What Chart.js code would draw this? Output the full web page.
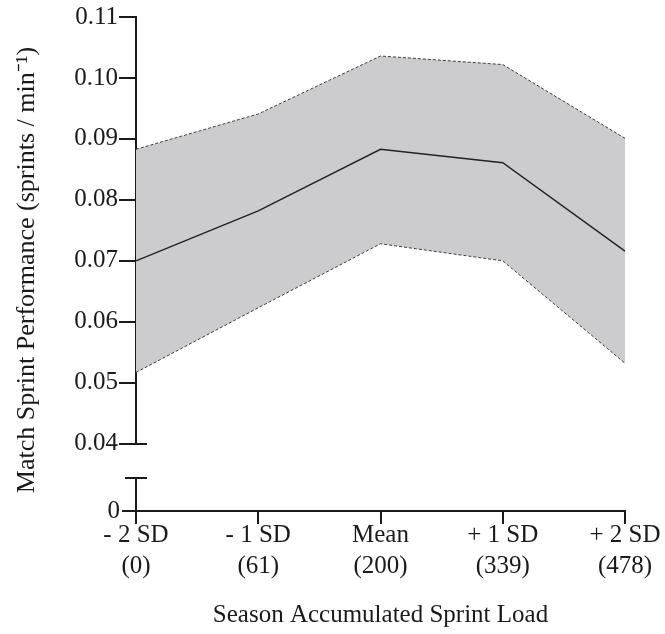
<!DOCTYPE html>
<html>
<head>
<meta charset="utf-8">
<script src="https://cdn.jsdelivr.net/npm/chart.js@4.4.1/dist/chart.umd.min.js"></script>
<style>
  html, body { margin: 0; padding: 0; background: #fff; }
  canvas { display: block; }
</style>
</head>
<body>
<canvas id="sprintChart" width="665" height="634"></canvas>
<script>
const loadLabels = [
  ["- 2 SD", "(0)"],
  ["- 1 SD", "(61)"],
  ["Mean", "(200)"],
  ["+ 1 SD", "(339)"],
  ["+ 2 SD", "(478)"],
];
const meanPerf = [0.07, 0.0782, 0.0883, 0.0861, 0.0716];
const upperPerf = [0.0883, 0.0941, 0.1036, 0.1022, 0.0901];
const lowerPerf = [0.0517, 0.0623, 0.0728, 0.07, 0.0532];
const upperTicks = [0.04, 0.05, 0.06, 0.07, 0.08, 0.09, 0.1, 0.11];
const lowerTicks = [0];
const yTitle = "Match Sprint Performance (sprints / min\u207B\u00B9)";
const xTitle = "Season Accumulated Sprint Load";

const serif = '"Liberation Serif", "Times New Roman", serif';
const ink = "#1a1a1a";

// caps at the axis break, and the y title centred on the whole broken axis
const axisBreak = {
  id: "axisBreak",
  afterDraw(chart) {
    const ctx = chart.ctx;
    const upper = chart.scales.y;
    const lower = chart.scales.yLow;
    const x = chart.chartArea.left;
    ctx.save();
    ctx.strokeStyle = ink;
    ctx.lineWidth = 2;
    ctx.beginPath();
    const yMin = Math.round(upper.getPixelForValue(upperTicks[0]));
    ctx.moveTo(x, yMin);
    ctx.lineTo(x + 11, yMin);
    const yCap = Math.round(lower.top);
    ctx.moveTo(x - 11, yCap);
    ctx.lineTo(x + 11, yCap);
    ctx.stroke();

    ctx.fillStyle = ink;
    ctx.font = "26px " + serif;
    ctx.textAlign = "center";
    ctx.textBaseline = "middle";
    ctx.translate(27, (chart.chartArea.top + chart.chartArea.bottom) / 2 + 6);
    ctx.rotate(-Math.PI / 2);
    ctx.fillText(yTitle, 0, 0);
    ctx.restore();
  },
};

const tickFont = { family: serif, size: 25 };

new Chart(document.getElementById("sprintChart"), {
  type: "line",
  data: {
    labels: loadLabels,
    datasets: [
      {
        label: "Upper",
        data: upperPerf,
        borderColor: "#3c3c3c",
        borderWidth: 1,
        borderDash: [3, 2],
        backgroundColor: "#cccccf",
        fill: "+2",
        pointRadius: 0,
        yAxisID: "y",
        order: 3,
      },
      {
        label: "Mean",
        data: meanPerf,
        borderColor: "#222222",
        borderWidth: 1.4,
        fill: false,
        pointRadius: 0,
        yAxisID: "y",
        order: 1,
      },
      {
        label: "Lower",
        data: lowerPerf,
        borderColor: "#3c3c3c",
        borderWidth: 1,
        borderDash: [3, 2],
        fill: false,
        pointRadius: 0,
        yAxisID: "y",
        order: 2,
      },
    ],
  },
  options: {
    responsive: false,
    animation: false,
    layout: { padding: { top: 16, right: 40, left: 0, bottom: 0 } },
    elements: { line: { tension: 0 } },
    plugins: {
      legend: { display: false },
      tooltip: { enabled: false },
    },
    scales: {
      x: {
        type: "category",
        offset: false,
        border: { color: ink, width: 2 },
        grid: { drawOnChartArea: false, tickLength: 13, color: ink, lineWidth: 2 },
        ticks: {
          color: ink,
          padding: -4,
          maxRotation: 0,
          autoSkip: false,
          font: { family: serif, size: 25, lineHeight: 1.25 },
        },
        title: {
          display: true,
          text: xTitle,
          color: ink,
          font: { family: serif, size: 25 },
          padding: { top: 0, bottom: 4 },
        },
        afterFit: (s) => {
          s.height = 123;
        },
      },
      y: {
        type: "linear",
        position: "left",
        stack: "perf",
        stackWeight: 427.6,
        weight: 3,
        min: 0.04,
        max: 0.11,
        afterBuildTicks: (s) => {
          s.ticks = upperTicks.map((v) => ({ value: v }));
        },
        ticks: {
          color: ink,
          padding: 1,
          font: tickFont,
          callback: (v) => Number(v).toFixed(2),
        },
        grid: { drawOnChartArea: false, tickLength: 17, color: ink, lineWidth: 2 },
        border: { color: ink, width: 2 },
        afterFit: (s) => {
          s.width = 136;
        },
      },
      yGap: {
        type: "linear",
        position: "left",
        stack: "perf",
        stackWeight: 34,
        weight: 2,
        display: false,
        min: 0,
        max: 1,
      },
      yLow: {
        type: "linear",
        position: "left",
        stack: "perf",
        stackWeight: 33.4,
        weight: 1,
        min: 0,
        max: 1,
        afterBuildTicks: (s) => {
          s.ticks = lowerTicks.map((v) => ({ value: v }));
        },
        ticks: { color: ink, padding: 2, font: tickFont },
        grid: { drawOnChartArea: false, tickLength: 14, color: ink, lineWidth: 2 },
        border: { color: ink, width: 2 },
        afterFit: (s) => {
          s.width = 136;
        },
      },
    },
  },
  plugins: [axisBreak],
});
</script>
</body>
</html>
